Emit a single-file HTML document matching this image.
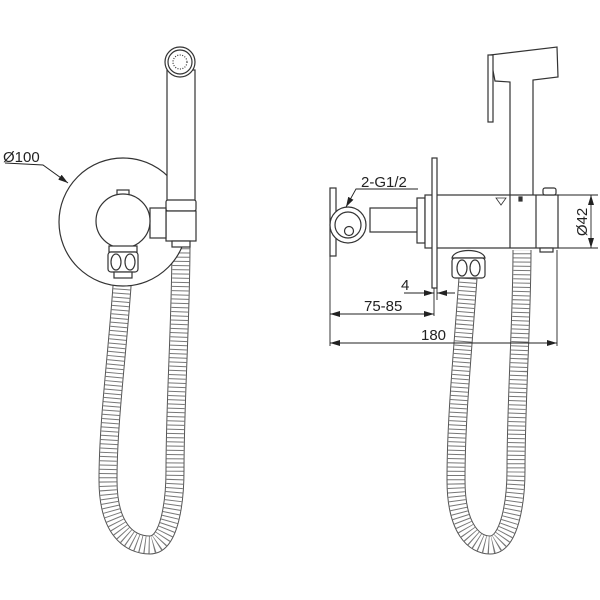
<!DOCTYPE html>
<html><head><style>html,body{margin:0;padding:0;background:#fff}svg{display:block}text{font-family:"Liberation Sans",sans-serif;fill:#222}</style></head>
<body>
<svg width="600" height="600" viewBox="0 0 600 600" xmlns="http://www.w3.org/2000/svg">
<defs>
<marker id="a" viewBox="0 0 10 6" refX="10" refY="3" markerWidth="10" markerHeight="6" orient="auto-start-reverse" markerUnits="userSpaceOnUse"><path d="M0,0L10,3L0,6z" fill="#222"/></marker>
</defs>
<g fill="none" stroke="#333" stroke-width="1.2">
<g id="hoses">
<path d="M123,272 C118,350 108,420 108,480 C108,530 130,545 150,545 C170,545 175,500 175,470 C175,400 181,320 181,242" stroke="#555" stroke-width="19"/>
<path d="M123,272 C118,350 108,420 108,480 C108,530 130,545 150,545 C170,545 175,500 175,470 C175,400 181,320 181,242" stroke="#fff" stroke-width="17"/>
<path d="M123,272 C118,350 108,420 108,480 C108,530 130,545 150,545 C170,545 175,500 175,470 C175,400 181,320 181,242" stroke="#777" stroke-width="17" stroke-dasharray="1 3.2"/>
<path d="M468,278 C462,360 456,420 456,480 C456,530 475,545 490,545 C510,545 516,500 516,470 C516,400 522,320 522,250" stroke="#555" stroke-width="19"/>
<path d="M468,278 C462,360 456,420 456,480 C456,530 475,545 490,545 C510,545 516,500 516,470 C516,400 522,320 522,250" stroke="#fff" stroke-width="17"/>
<path d="M468,278 C462,360 456,420 456,480 C456,530 475,545 490,545 C510,545 516,500 516,470 C516,400 522,320 522,250" stroke="#777" stroke-width="17" stroke-dasharray="1 3.2"/>
</g>
<circle cx="123" cy="222" r="64" fill="#fff"/>
<rect x="167" y="70" width="28" height="132" fill="#fff"/>
<circle cx="180" cy="62" r="15" fill="#fff"/>
<circle cx="180" cy="62" r="12"/>
<circle cx="180" cy="62" r="7" stroke-dasharray="1 1.5"/>
<rect x="166" y="200" width="30" height="11" rx="2" fill="#fff"/>
<rect x="166" y="211" width="30" height="30" fill="#fff"/>
<rect x="150" y="208" width="16" height="30" fill="#fff"/>
<rect x="117" y="190" width="12" height="7" fill="#fff"/>
<circle cx="123" cy="221" r="27" fill="#fff"/>
<rect x="109" y="246" width="28" height="6" fill="#fff"/>
<rect x="108" y="252" width="30" height="20" rx="3" fill="#fff"/>
<ellipse cx="116" cy="262" rx="5" ry="8"/><ellipse cx="130" cy="262" rx="5" ry="8"/>
<rect x="114" y="272" width="18" height="6" fill="#fff"/>
<rect x="172" y="241" width="18" height="6" fill="#fff"/>
<path d="M5,163 L43,165 L68,183" stroke="#222" stroke-width="1" marker-end="url(#a)"/>
<path d="M510,195 L510,82 L495,81 L490,55 L557,47 L558,77 L533,80 L533,195" fill="#fff"/>
<rect x="488" y="55" width="5" height="67" fill="#fff"/>
<rect x="330" y="188" width="6" height="68" fill="#fff"/>
<rect x="370" y="208" width="48" height="24" fill="#fff"/>
<circle cx="348" cy="225" r="18" fill="#fff"/>
<circle cx="348" cy="225" r="13"/>
<circle cx="349" cy="231" r="4.5"/>
<rect x="417" y="198" width="8" height="45" fill="#fff"/>
<rect x="425" y="195" width="133" height="53" fill="#fff"/>
<line x1="510" y1="195" x2="510" y2="248"/><line x1="536" y1="195" x2="536" y2="248"/>
<rect x="543" y="188" width="13" height="7" rx="2" fill="#fff"/>
<rect x="540" y="248" width="13" height="4" fill="#fff"/>
<rect x="432" y="158" width="5" height="130" fill="#fff"/>
<path d="M496,198 L501,205 L506,198Z" stroke-width="0.8"/>
<rect x="519" y="197" width="3" height="4" fill="#333"/>
<path d="M452,258 C454,248 483,248 485,258Z" fill="#fff"/>
<rect x="452" y="258" width="33" height="20" rx="3" fill="#fff"/>
<ellipse cx="462" cy="268" rx="5" ry="8"/><ellipse cx="475" cy="268" rx="5" ry="8"/>
<g stroke="#222" stroke-width="0.9">
<line x1="330" y1="256" x2="330" y2="346"/>
<line x1="557" y1="250" x2="557" y2="346"/>
<line x1="434" y1="288" x2="434" y2="316"/>
<line x1="437" y1="288" x2="437" y2="300"/>
<line x1="558" y1="195" x2="598" y2="195"/>
<line x1="558" y1="248" x2="598" y2="248"/>
<line x1="591" y1="195" x2="591" y2="248" marker-start="url(#a)" marker-end="url(#a)"/>
<line x1="404" y1="293" x2="434" y2="293" marker-end="url(#a)"/>
<line x1="455" y1="293" x2="437" y2="293" marker-end="url(#a)"/>
<line x1="330" y1="314" x2="434" y2="314" marker-start="url(#a)" marker-end="url(#a)"/>
<line x1="330" y1="343" x2="557" y2="343" marker-start="url(#a)" marker-end="url(#a)"/>
<path d="M418,189 L356,189 L346,207" marker-end="url(#a)"/>
</g>
</g>
<text x="3" y="162" font-size="15">Ø100</text>
<text x="361" y="187" font-size="15">2-G1/2</text>
<text x="401" y="290" font-size="15">4</text>
<text x="364" y="311" font-size="15">75-85</text>
<text x="421" y="340" font-size="15">180</text>
<text transform="translate(587,222) rotate(-90)" font-size="15" text-anchor="middle">Ø42</text>
</svg>
</body></html>
